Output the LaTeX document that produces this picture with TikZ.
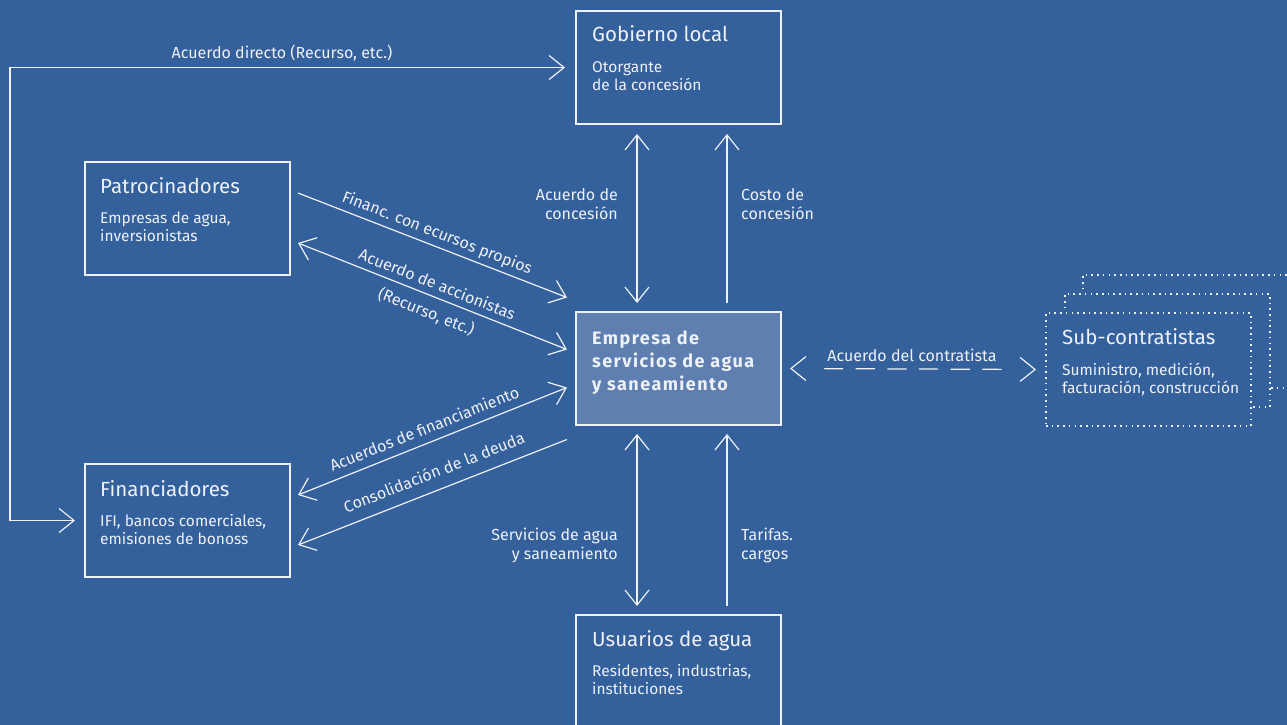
\documentclass[tikz,border=0pt]{standalone}
\usepackage{fontspec}
\setmainfont{Fira Sans}
\newfontfamily\bldfont{Fira Sans}[LetterSpace=8]
\usetikzlibrary{arrows.meta,calc}
\definecolor{bg}{RGB}{52,96,156}
\definecolor{cfill}{RGB}{94,127,176}
\definecolor{fg}{RGB}{238,241,246}
\begin{document}
\begin{tikzpicture}[x=1pt,y=-1pt,
  box/.style={draw=fg,line width=1.3pt,minimum width=205pt,minimum height=113pt,inner sep=0pt,outer sep=0pt,anchor=north west},
  mainbox/.style={box,fill=cfill,line width=2.6pt},
  dotbox/.style={box,line width=1.6pt,dash pattern=on 1.6pt off 4.1pt},
  ttl/.style={font=\fontsize{20.5}{24}\selectfont,text=fg,anchor=base west,inner sep=0pt},
  sub/.style={font=\fontsize{15.5}{19}\selectfont,text=fg,anchor=base west,inner sep=0pt},
  bld/.style={font=\bldfont\fontsize{18}{23}\selectfont\bfseries,text=fg,anchor=base west,inner sep=0pt},
  lab/.style={font=\fontsize{16}{19}\selectfont,text=fg,inner sep=0pt},
  slab/.style={lab,sloped,text depth=0pt,text height=0pt},
  tipR/.style={-{Straight Barb[length=15pt,width=24pt]}},
  tipL/.style={{Straight Barb[length=15pt,width=24pt]}-},
  tipLR/.style={{Straight Barb[length=15pt,width=24pt]}-{Straight Barb[length=15pt,width=24pt]}},
  ln/.style={draw=fg,line width=1.2pt}
]
\fill[bg] (0,0) rectangle (1287,725);
\useasboundingbox (0,0) rectangle (1287,725);
\clip (0,0) rectangle (1287,725);

% boxes
\node[box] (gob) at (576,11) {};
\node[box] (pat) at (85,162) {};
\node[box] (fin) at (85,464) {};
\node[mainbox] (emp) at (576,312) {};
\node[box,minimum height=130pt] (usu) at (576,615) {};
\node[dotbox] (sub3) at (1083,275) {};
\node[dotbox,fill=bg] (sub2) at (1065,294) {};
\node[dotbox,fill=bg] (sub1) at (1046,313) {};

% texts
\node[ttl] (gobt) at (592,42) {Gobierno local};
\node[sub] (gobs1) at (592,72) {Otorgante};
\node[sub] (gobs2) at (592,90) {de la concesión};

\node[ttl] (patt) at (100,193) {Patrocinadores};
\node[sub] (pats1) at (100,223) {Empresas de agua,};
\node[sub] (pats2) at (100,241) {inversionistas};

\node[ttl] (fint) at (100,496) {Financiadores};
\node[sub] (fins1) at (100,526) {IFI, bancos comerciales,};
\node[sub] (fins2) at (100,544) {emisiones de bonoss};

\node[ttl] (usut) at (592,646) {Usuarios de agua};
\node[sub] (usus1) at (592,676) {Residentes, industrias,};
\node[sub] (usus2) at (592,694) {instituciones};

\node[ttl] (subt) at (1062,344) {Sub-contratistas};
\node[sub] (subs1) at (1062,375) {Suministro, medición,};
\node[sub] (subs2) at (1062,393) {facturación, construcción};

\node[bld] (empt1) at (592,344) {Empresa de};
\node[bld] (empt2) at (592,367) {servicios de agua};
\node[bld] (empt3) at (592,390) {y saneamiento};

% Acuerdo directo
\draw[ln,tipLR] ([xshift=-10pt]fin.west) -- ([xshift=-75pt]fin.west) |- ([xshift=-11pt]gob.west);
\node[lab,anchor=base] (ladir) at (282,59) {Acuerdo directo (Recurso, etc.)};

% vertical top
\draw[ln,tipLR] ([xshift=-41.5pt,yshift=-10pt]gob.south) -- ([xshift=-41.5pt,yshift=9pt]emp.north);
\draw[ln,tipR] ([xshift=48.5pt,yshift=9pt]emp.north) -- ([xshift=48.5pt,yshift=-10pt]gob.south);
\node[lab,anchor=base east] (lac1) at (618,200) {Acuerdo de};
\node[lab,anchor=base east] (lac2) at (618,219) {concesión};
\node[lab,anchor=base west] (lco1) at (741,200) {Costo de};
\node[lab,anchor=base west] (lco2) at (741,219) {concesión};

% vertical bottom
\draw[ln,tipLR] ([xshift=-41.5pt,yshift=-9pt]emp.south) -- ([xshift=-41.5pt,yshift=9pt]usu.north);
\draw[ln,tipR] ([xshift=48.5pt,yshift=9pt]usu.north) -- ([xshift=48.5pt,yshift=-9pt]emp.south);
\node[lab,anchor=base east] (lse1) at (618,540) {Servicios de agua};
\node[lab,anchor=base east] (lse2) at (618,559) {y saneamiento};
\node[lab,anchor=base west] (lta1) at (741,540) {Tarifas.};
\node[lab,anchor=base west] (lta2) at (741,559) {cargos};

% diagonals
\draw[ln,tipR] ([xshift=8pt,yshift=25.5pt]pat.east) -- ([xshift=-9pt,yshift=71pt]emp.west)
  node[slab,pos=0.5,above=7pt] (lfin) {Financ. con ecursos propios};
\draw[ln,tipLR] ([xshift=8pt,yshift=-24.5pt]pat.east) -- ([xshift=-9pt,yshift=19pt]emp.west)
  node[slab,pos=0.5,above=6pt] (lacc1) {Acuerdo de accionistas}
  node[slab,pos=0.5,below=21pt] (lacc2) {(Recurso, etc.)};
\draw[ln,tipLR] ([xshift=8pt,yshift=25.5pt]fin.east) -- ([xshift=-9pt,yshift=-19pt]emp.west)
  node[slab,pos=0.49,above=7.5pt] (lafi) {Acuerdos de financiamiento};
\draw[ln,tipL] ([xshift=8pt,yshift=-24.5pt]fin.east) -- ([xshift=-9pt,yshift=-71pt]emp.west)
  node[slab,pos=0.53,above=11pt] (lcon) {Consolidación de la deuda};

% dashed contractor
\draw[ln,tipLR,dash pattern=on 0pt off 32.3pt on 19.3pt off 12.4pt on 19.3pt off 12.4pt on 19.3pt off 12.4pt on 19.3pt off 12.4pt on 19.3pt off 12.4pt on 19.3pt off 60pt]
  ([xshift=9pt]emp.east) -- ([xshift=-10pt]sub1.west);
\node[lab,anchor=base] (lcont) at (912,361) {Acuerdo del contratista};
\end{tikzpicture}
\end{document}
